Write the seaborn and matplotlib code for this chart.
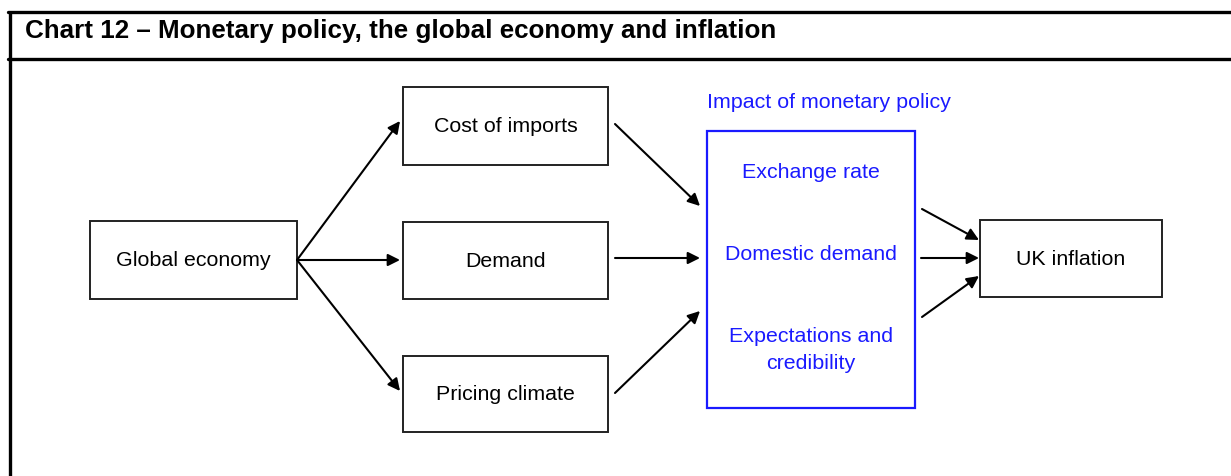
import matplotlib
matplotlib.use("Agg")
import matplotlib.pyplot as plt
import seaborn as sns
from matplotlib.patches import Rectangle

sns.set_theme(style="white")
plt.rcParams['font.family'] = ['Liberation Sans', 'DejaVu Sans']

title = "Chart 12 \u2013 Monetary policy, the global economy and inflation"
panel_title = "Impact of monetary policy"

# black boxes: label -> (x0, y0, x1, y1) in pixels
boxes = {
    "Global economy": (90, 222, 297, 300),
    "Cost of imports": (403, 88, 608, 166),
    "Demand": (403, 223, 608, 300),
    "Pricing climate": (403, 357, 608, 433),
    "UK inflation": (980, 221, 1162, 298),
}
channels = ["Exchange rate", "Domestic demand", "Expectations and\ncredibility"]
channel_y = [173, 255, 350]
policy_box = (707, 132, 915, 409)

# arrows: (x_start, y_start, x_end, y_end)
arrows = [
    (297, 261, 400, 122), (297, 261, 400, 261), (297, 261, 400, 392),
    (615, 125, 700, 207), (615, 259, 700, 259), (615, 394, 700, 312),
    (922, 210, 979, 241), (921, 259, 979, 259), (922, 318, 979, 277),
]

fig = plt.figure(figsize=(12.31, 4.77), dpi=100)
ax = fig.add_axes([0, 0, 1, 1])
ax.set_xlim(0, 1231)
ax.set_ylim(477, 0)
ax.axis("off")

# frame
ax.plot([9.5, 9.5], [12, 477], color="black", lw=2.4, solid_capstyle="butt")
ax.plot([8, 1231], [12.5, 12.5], color="black", lw=2.4)
ax.plot([8, 1231], [60, 60], color="black", lw=2.4)
ax.text(25, 31, title, fontsize=18.7, fontweight="bold", va="center", ha="left", color="black")

for label, (x0, y0, x1, y1) in boxes.items():
    ax.add_patch(Rectangle((x0, y0), x1 - x0, y1 - y0, fill=False, ec="#222222", lw=1.4))
    ax.text((x0 + x1) / 2, (y0 + y1) / 2, label, fontsize=15.4, ha="center", va="center", color="black")

x0, y0, x1, y1 = policy_box
ax.add_patch(Rectangle((x0, y0), x1 - x0, y1 - y0, fill=False, ec="#1a1aff", lw=1.6))
ax.text(x0, 103, panel_title, fontsize=15.4, ha="left", va="center", color="#1a1aff")
for label, y in zip(channels, channel_y):
    ax.text((x0 + x1) / 2, y, label, fontsize=15.4, ha="center", va="center",
            color="#1a1aff", linespacing=1.5)

for xs, ys, xe, ye in arrows:
    ax.annotate("", xy=(xe, ye), xytext=(xs, ys),
                arrowprops=dict(arrowstyle="-|>", color="black", lw=1.5,
                                mutation_scale=18, shrinkA=0, shrinkB=0))

fig.savefig("out.png", dpi=100)
